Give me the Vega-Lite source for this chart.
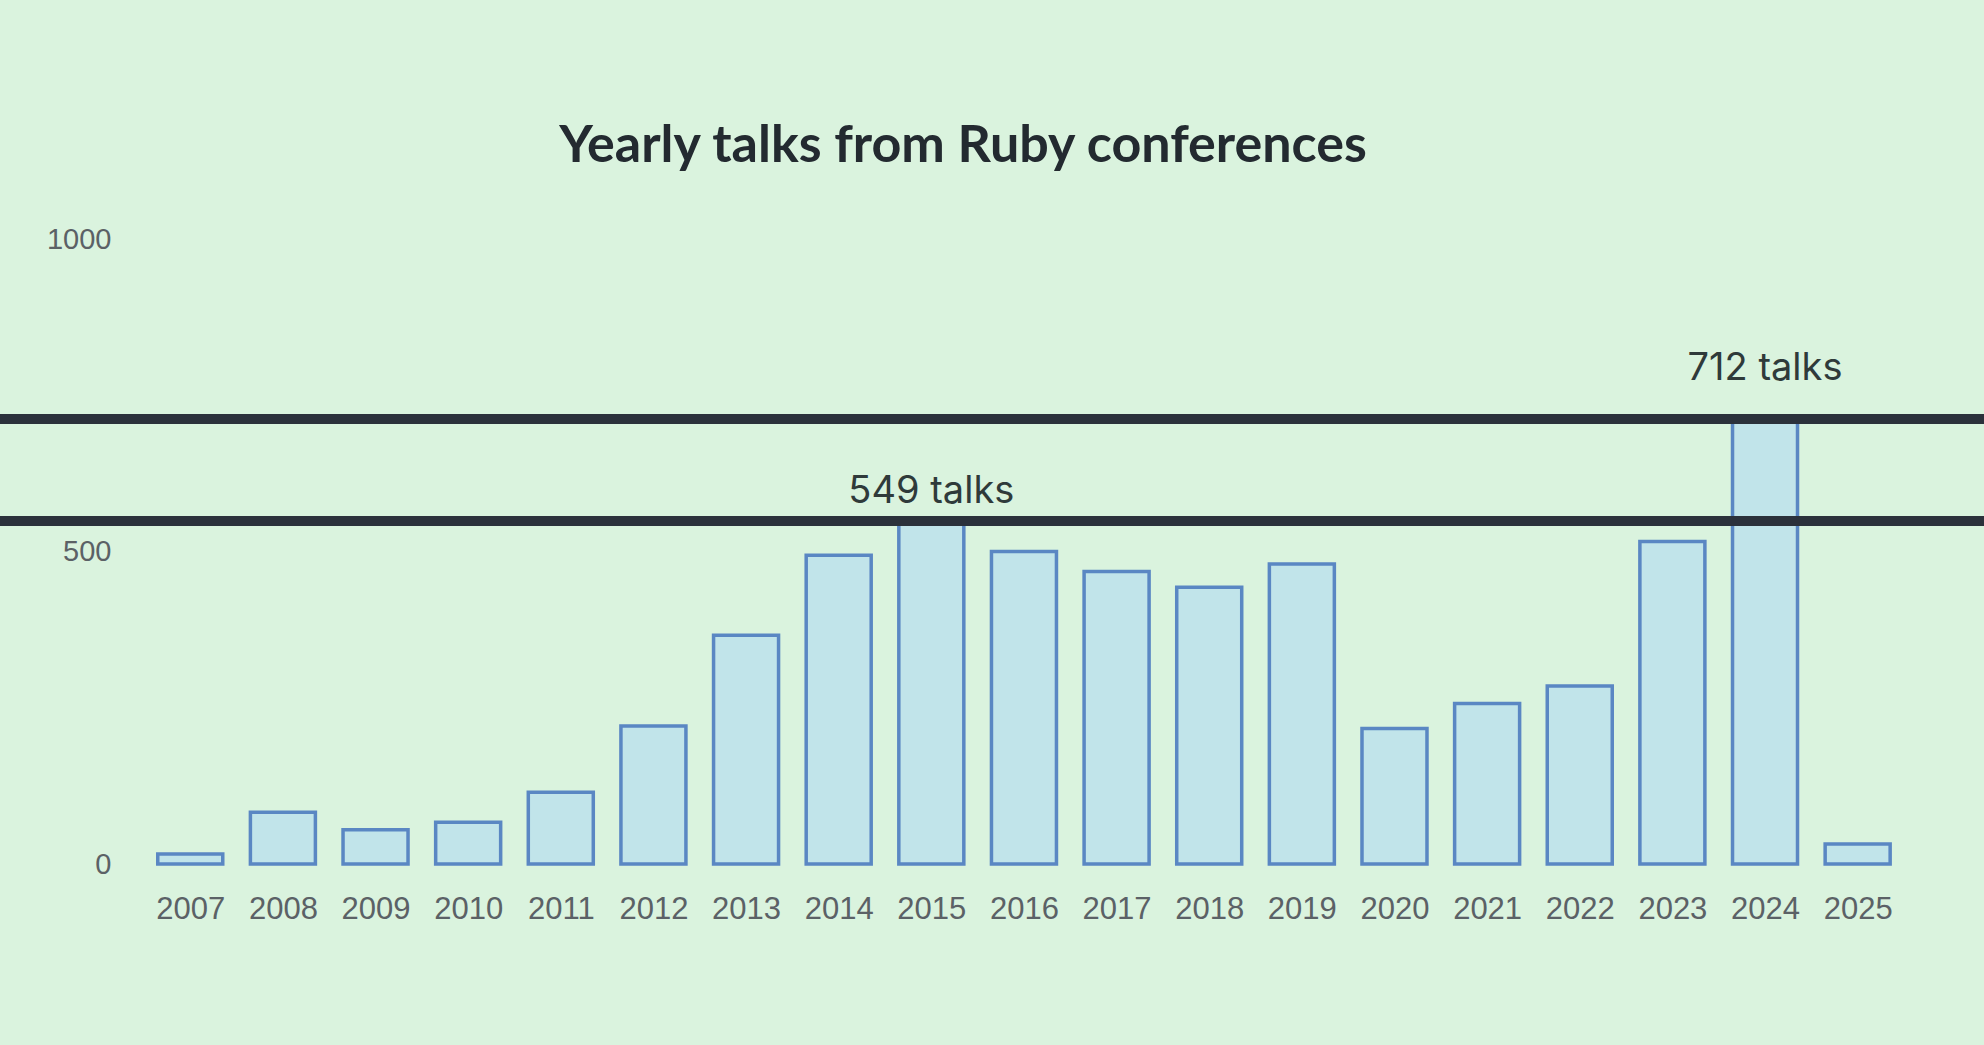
{
  "$schema": "https://vega.github.io/schema/vega-lite/v6.json",
  "autosize": {"type": "none"},
  "width": 1984,
  "height": 625,
  "padding": {"left": 0, "right": 0, "top": 239, "bottom": 181},
  "background": "#daf3de",
  "config": {"view": {"stroke": null}},
  "title": {
    "text": "Yearly talks from Ruby conferences",
    "font": "Lato",
    "fontSize": 52,
    "fontWeight": "bold",
    "color": "#232a30",
    "anchor": "middle",
    "dx": -29,
    "offset": 52
  },
  "datasets": {
    "talks": [
      {"year": 2007, "talks": 16},
      {"year": 2008, "talks": 83},
      {"year": 2009, "talks": 55},
      {"year": 2010, "talks": 67},
      {"year": 2011, "talks": 115},
      {"year": 2012, "talks": 221},
      {"year": 2013, "talks": 366},
      {"year": 2014, "talks": 494},
      {"year": 2015, "talks": 549},
      {"year": 2016, "talks": 500},
      {"year": 2017, "talks": 468},
      {"year": 2018, "talks": 443},
      {"year": 2019, "talks": 480},
      {"year": 2020, "talks": 217},
      {"year": 2021, "talks": 257},
      {"year": 2022, "talks": 285},
      {"year": 2023, "talks": 516},
      {"year": 2024, "talks": 712},
      {"year": 2025, "talks": 32}
    ],
    "marks": [
      {"year": 2015, "talks": 549, "label": "549 talks"},
      {"year": 2024, "talks": 712, "label": "712 talks"}
    ]
  },
  "layer": [
    {
      "data": {"name": "talks"},
      "mark": {"type": "bar", "fill": "#c1e4ea", "stroke": "#5a87c3", "strokeWidth": 3.5, "width": 65},
      "encoding": {
        "x": {
          "field": "year", "type": "quantitative",
          "scale": {"domain": [2005, 2026.31], "nice": false, "zero": false},
          "axis": {
            "title": null, "domain": false, "ticks": false, "tickSize": 0, "grid": false,
            "values": [2007, 2008, 2009, 2010, 2011, 2012, 2013, 2014, 2015, 2016, 2017, 2018, 2019, 2020, 2021, 2022, 2023, 2024, 2025],
            "format": "d", "labelAngle": 0, "labelFont": "Liberation Sans", "labelFontSize": 31,
            "labelColor": "#5b6166", "labelPadding": 30, "labelFlush": false, "labelOverlap": false
          }
        },
        "y": {
          "field": "talks", "type": "quantitative",
          "scale": {"domain": [0, 1000], "nice": false},
          "axis": {
            "title": null, "domain": false, "ticks": false, "tickSize": 0, "grid": false,
            "values": [0, 500, 1000], "format": "d", "labelAlign": "right", "labelPadding": -111,
            "labelFont": "Liberation Sans", "labelFontSize": 29, "labelColor": "#5b6166",
            "labelFlush": false, "labelOverlap": false
          }
        }
      }
    },
    {
      "data": {"name": "marks"},
      "mark": {"type": "rule", "stroke": "#2b313b", "strokeWidth": 10},
      "encoding": {
        "y": {"field": "talks", "type": "quantitative"}
      }
    },
    {
      "data": {"name": "marks"},
      "transform": [{"filter": "datum.year == 2015"}],
      "mark": {"type": "text", "font": "Inter", "fontSize": 38, "color": "#2f3a3a", "baseline": "middle", "dy": -29},
      "encoding": {
        "x": {"field": "year", "type": "quantitative"},
        "y": {"field": "talks", "type": "quantitative"},
        "text": {"field": "label"}
      }
    },
    {
      "data": {"name": "marks"},
      "transform": [{"filter": "datum.year == 2024"}],
      "mark": {"type": "text", "font": "Inter", "fontSize": 38, "color": "#2f3a3a", "baseline": "middle", "dy": -50},
      "encoding": {
        "x": {"field": "year", "type": "quantitative"},
        "y": {"field": "talks", "type": "quantitative"},
        "text": {"field": "label"}
      }
    }
  ]
}
